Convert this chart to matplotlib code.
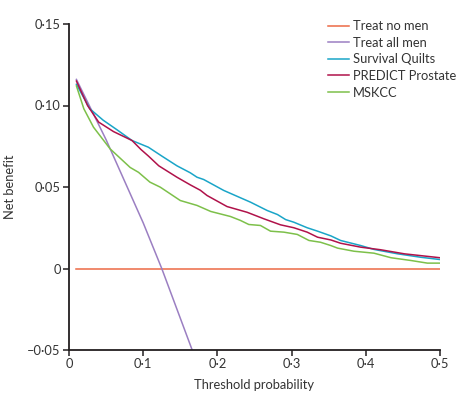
import matplotlib
matplotlib.use('Agg')
import matplotlib.pyplot as plt

plt.rcParams['font.family'] = ['Lato', 'DejaVu Sans']

# threshold probability / net benefit
treat_none_x = [0.01, 0.5]
treat_none_y = [0.0, 0.0]

treat_all_x = [0.01, 0.05, 0.10, 0.125, 0.166]
treat_all_y = [0.116, 0.079, 0.028, 0.0, -0.05]

quilts_x = [0.01, 0.028, 0.046, 0.065, 0.085, 0.107, 0.125, 0.1455, 0.1635, 0.1725,
            0.1815, 0.2085, 0.231, 0.2446, 0.267, 0.281, 0.292, 0.303, 0.321, 0.335,
            0.353, 0.366, 0.393, 0.411, 0.443, 0.474, 0.5]
quilts_y = [0.113, 0.098, 0.091, 0.085, 0.0785, 0.0744, 0.069, 0.063, 0.0587, 0.056,
            0.0546, 0.0479, 0.0434, 0.0407, 0.0356, 0.0331, 0.030, 0.0284, 0.025, 0.0229,
            0.020, 0.0172, 0.0141, 0.0117, 0.009, 0.0069, 0.0055]

predict_x = [0.01, 0.025, 0.040, 0.06, 0.085, 0.097, 0.107, 0.121, 0.1455, 0.1635,
             0.177, 0.186, 0.213, 0.240, 0.2626, 0.285, 0.303, 0.321, 0.335, 0.353,
             0.366, 0.393, 0.42, 0.452, 0.5]
predict_y = [0.115, 0.100, 0.0898, 0.084, 0.0785, 0.073, 0.069, 0.063, 0.056, 0.0513,
             0.048, 0.0448, 0.038, 0.0345, 0.0305, 0.0268, 0.025, 0.0223, 0.0192, 0.0175,
             0.0155, 0.0131, 0.0115, 0.009, 0.0066]

mskcc_x = [0.01, 0.02, 0.033, 0.0554, 0.0824, 0.0937, 0.109, 0.123, 0.15, 0.1725,
           0.191, 0.2176, 0.231, 0.2423, 0.258, 0.2716, 0.2896, 0.3077, 0.3234, 0.339,
           0.3527, 0.362, 0.384, 0.411, 0.434, 0.461, 0.483, 0.5]
mskcc_y = [0.112, 0.098, 0.0867, 0.0734, 0.062, 0.059, 0.053, 0.0499, 0.0417, 0.0387,
           0.035, 0.0319, 0.0295, 0.027, 0.0264, 0.0229, 0.0223, 0.0209, 0.0172, 0.0161,
           0.0141, 0.0125, 0.0106, 0.0094, 0.0066, 0.0049, 0.0033, 0.0033]

x_ticks = [0, 0.1, 0.2, 0.3, 0.4, 0.5]
x_labels = ['0', '0·1', '0·2', '0·3', '0·4', '0·5']
y_ticks = [-0.05, 0, 0.05, 0.10, 0.15]
y_labels = ['\u20130·05', '0', '0·05', '0·10', '0·15']

dark = '#231f20'

fig = plt.figure(figsize=(4.59, 4.04), dpi=100)
ax = fig.add_axes([69 / 459, 54 / 404, 371 / 459, 326 / 404])

lw = 1.1
ax.plot(treat_none_x, treat_none_y, color='#ec6a45', lw=lw, label='Treat no men')
ax.plot(treat_all_x, treat_all_y, color='#9b7fc2', lw=lw, label='Treat all men')
ax.plot(quilts_x, quilts_y, color='#1aa5c8', lw=lw, label='Survival Quilts')
ax.plot(predict_x, predict_y, color='#b0124a', lw=lw, label='PREDICT Prostate')
ax.plot(mskcc_x, mskcc_y, color='#7dc04a', lw=lw, label='MSKCC')

ax.set_xlim(0, 0.5)
ax.set_ylim(-0.05, 0.15)
ax.set_xticks(x_ticks)
ax.set_xticklabels(x_labels)
ax.set_yticks(y_ticks)
ax.set_yticklabels(y_labels)

for s in ['top', 'right']:
    ax.spines[s].set_visible(False)
for s in ['left', 'bottom']:
    ax.spines[s].set_color(dark)
    ax.spines[s].set_linewidth(1.3)
ax.tick_params(colors=dark, labelcolor='#333333', labelsize=9.3, length=4, width=1.1, pad=2)

ax.set_xlabel('Threshold probability', fontsize=9.3, color='#333333', labelpad=6)
ax.set_ylabel('Net benefit', fontsize=9.3, color='#333333', labelpad=8)

leg = ax.legend(loc='upper left', bbox_to_anchor=(0.683, 1.028), frameon=False,
                fontsize=9.3, handlelength=1.65, handletextpad=0.32, labelspacing=0.36,
                borderaxespad=0)
for t in leg.get_texts():
    t.set_color('#333333')

fig.savefig('out.png', dpi=100)
